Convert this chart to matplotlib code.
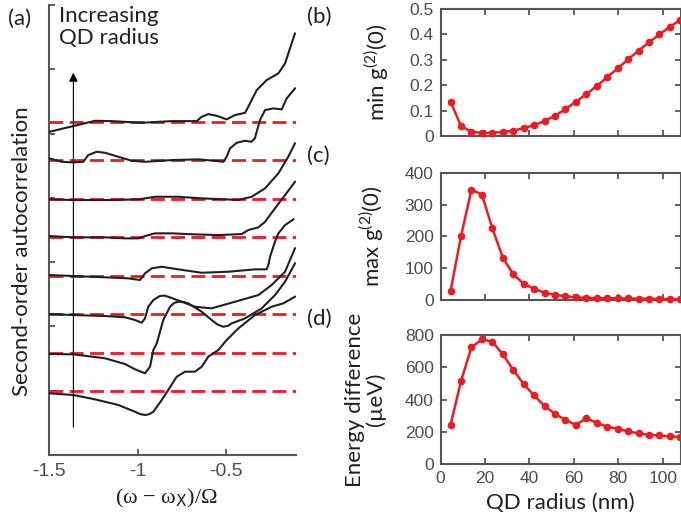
import matplotlib
matplotlib.use('Agg')
import matplotlib.pyplot as plt

plt.rcParams['font.family'] = ['Lato', 'DejaVu Sans']
plt.rcParams['axes.unicode_minus'] = False
plt.rcParams['mathtext.fontset'] = 'custom'
plt.rcParams['mathtext.rm'] = 'Lato'

# ---- panel (a): g2 spectra, bottom curve = smallest QD ----
baselines = [1.0, 1.59, 2.19, 2.79, 3.39, 3.98, 4.59, 5.18]

c0_x = [-1.5, -1.364, -1.242, -1.11, -1.016, -0.985, -0.959, -0.935, -0.912, -0.865, -0.828,
        -0.78, -0.733, -0.677, -0.639, -0.602, -0.545, -0.498, -0.432, -0.338, -0.244,
        -0.178, -0.112]
c0_y = [0.96, 0.933, 0.866, 0.778, 0.673, 0.635, 0.622, 0.635, 0.673, 0.855, 1.011,
        1.218, 1.296, 1.296, 1.373, 1.529, 1.633, 1.788, 1.97, 2.177, 2.306,
        2.359, 2.462]

c1_x = [-1.5, -1.364, -1.185, -1.072, -1.016, -0.959, -0.931, -0.912, -0.893, -0.856, -0.818,
        -0.795, -0.771, -0.74, -0.715, -0.639, -0.583, -0.55, -0.517, -0.49, -0.469,
        -0.394, -0.3, -0.225, -0.168, -0.112]
c1_y = [1.571, 1.566, 1.504, 1.415, 1.333, 1.271, 1.373, 1.633, 1.737, 2.1, 2.306,
        2.365, 2.384, 2.38, 2.359, 2.229, 2.1, 2.03, 1.995, 2.01, 2.048,
        2.126, 2.281, 2.488, 2.695, 2.981]

c2_x = [-1.5, -1.364, -1.185, -1.072, -1.016, -0.978, -0.959, -0.941, -0.912, -0.875,
        -0.85, -0.828, -0.752, -0.677, -0.583, -0.451, -0.319, -0.244, -0.168, -0.112]
c2_y = [2.193, 2.177, 2.162, 2.142, 2.1, 2.058, 2.126, 2.306, 2.411, 2.473,
        2.48, 2.462, 2.384, 2.306, 2.281, 2.384, 2.488, 2.644, 2.851, 3.215]

c3_x = [-1.5, -1.364, -1.185, -1.054, -0.988, -0.959, -0.921, -0.865, -0.771,
        -0.639, -0.489, -0.338, -0.272, -0.262, -0.253, -0.225, -0.206, -0.168, -0.121]
c3_y = [2.799, 2.784, 2.764, 2.748, 2.722, 2.826, 2.904, 2.928, 2.888,
        2.835, 2.851, 2.888, 2.888, 2.96, 3.084, 3.317, 3.448, 3.577, 3.666]

c4_x = [-1.5, -1.364, -1.185, -1.072, -0.997, -0.959, -0.903, -0.808, -0.677,
        -0.545, -0.413, -0.376, -0.319, -0.281, -0.225, -0.168, -0.112]
c4_y = [3.406, 3.386, 3.386, 3.37, 3.37, 3.406, 3.448, 3.448, 3.432,
        3.421, 3.437, 3.499, 3.541, 3.628, 3.837, 4.044, 4.25]

c5_x = [-1.5, -1.364, -1.147, -0.997, -0.959, -0.903, -0.771, -0.639, -0.507,
        -0.432, -0.357, -0.281, -0.206, -0.15, -0.112]
c5_y = [3.977, 3.966, 3.966, 3.977, 3.992, 4.017, 4.017, 3.992, 3.977,
        3.966, 4.017, 4.148, 4.381, 4.639, 4.848]

c6_x = [-1.5, -1.43, -1.364, -1.308, -1.28, -1.232, -1.185, -1.11, -1.034, -0.959,
        -0.808, -0.658, -0.564, -0.517, -0.498, -0.479, -0.441, -0.394, -0.357,
        -0.338, -0.31, -0.281, -0.234, -0.187, -0.159, -0.112]
c6_y = [4.614, 4.561, 4.552, 4.561, 4.666, 4.717, 4.701, 4.639, 4.577, 4.561,
        4.588, 4.599, 4.577, 4.561, 4.639, 4.77, 4.857, 4.888, 4.872,
        4.93, 5.21, 5.365, 5.392, 5.376, 5.547, 5.703]

c7_x = [-1.5, -1.364, -1.242, -1.147, -0.978, -0.808, -0.667, -0.639, -0.602, -0.554,
        -0.498, -0.451, -0.394, -0.366, -0.328, -0.272, -0.206, -0.168, -0.112]
c7_y = [5.028, 5.117, 5.199, 5.194, 5.168, 5.194, 5.194, 5.261, 5.303, 5.277,
        5.221, 5.288, 5.323, 5.47, 5.677, 5.832, 5.936, 6.092, 6.558]

curves = [(c0_x, c0_y), (c1_x, c1_y), (c2_x, c2_y), (c3_x, c3_y),
          (c4_x, c4_y), (c5_x, c5_y), (c6_x, c6_y), (c7_x, c7_y)]

# ---- panels (b)-(d): vs QD radius ----
radius = [4.5, 9.2, 13.9, 18.6, 23.3, 28.0, 32.7, 37.4, 42.1, 46.8, 51.5, 56.2,
          60.9, 65.6, 70.3, 75.0, 79.7, 84.4, 89.1, 93.8, 98.5, 103.2, 107.9]
min_g2 = [0.135, 0.039, 0.017, 0.012, 0.013, 0.016, 0.021, 0.031, 0.043, 0.059, 0.080, 0.106,
          0.135, 0.165, 0.197, 0.232, 0.266, 0.302, 0.336, 0.369, 0.400, 0.430, 0.457]
max_g2 = [29, 201, 347, 331, 225, 133, 81, 51, 35, 23, 16, 12,
          8, 7, 6, 6, 5, 5, 4, 4, 3, 3, 2]
energy_diff = [243, 515, 724, 773, 759, 680, 584, 495, 425, 359, 311, 274,
               241, 285, 254, 231, 219, 202, 190, 181, 177, 171, 167]

red = '#ec1c24'
black = '#231f20'
spine_c = '#555555'
tick_c = '#4d4d4d'

fig = plt.figure(figsize=(6.81, 5.29), dpi=100)

# panel a
ax = fig.add_axes([0.0724, 0.1399, 0.3623, 0.8506])
for b in baselines:
    ax.axhline(b, color=red, lw=2, ls=(0, (5, 2.3)), zorder=2)
for cx, cy in curves:
    ax.plot(cx, cy, color=black, lw=1.5, zorder=3, solid_joinstyle='round')
ax.annotate('', xy=(-1.364, 5.99), xytext=(-1.364, 0.39),
            arrowprops=dict(arrowstyle='-|>', lw=0.8, color='k', mutation_scale=13))
ax.text(-1.445, 6.98, 'Increasing\nQD radius', fontsize=16, va='top', ha='left',
        linespacing=1.1, color=black)
ax.set_xlim(-1.5, -0.106)
ax.set_ylim(0, 7)
ax.set_xticks([-1.5, -1, -0.5])
ax.set_xticklabels(['-1.5', '-1', '-0.5'], family='Liberation Sans')
ax.set_yticks(range(8))
ax.set_yticklabels([])
for s in ['top', 'right']:
    ax.spines[s].set_visible(False)
for s in ['left', 'bottom']:
    ax.spines[s].set_color(spine_c)
    ax.spines[s].set_linewidth(1.5)
ax.tick_params(direction='in', length=4, width=1.3, color=spine_c,
               labelsize=14, labelcolor=tick_c, pad=6)
ax.set_ylabel('Second-order autocorrelation', fontsize=16, color=black)
ax.yaxis.set_label_coords(-0.07, 0.453)
ax.set_xlabel(r'(ω − ω$_{\mathrm{X}}$)/Ω', fontsize=16, color=black,
              family=['Liberation Serif', 'DejaVu Serif'], math_fontfamily='dejavusans')
ax.xaxis.set_label_coords(0.474, -0.072)

# right panels
right_axes = []
specs = [
    ([0.647, 0.7429, 0.353, 0.2401], min_g2, (0, 0.5), [0, 0.1, 0.2, 0.3, 0.4, 0.5],
     ['0', '0.1', '0.2', '0.3', '0.4', '0.5'], r'min g$^{\mathrm{(2)}}$(0)'),
    ([0.647, 0.4329, 0.353, 0.2406], max_g2, (0, 400), [0, 100, 200, 300, 400],
     ['0', '100', '200', '300', '400'], r'max g$^{\mathrm{(2)}}$(0)'),
    ([0.647, 0.1229, 0.353, 0.2438], energy_diff, (0, 800), [0, 200, 400, 600, 800],
     ['0', '200', '400', '600', '800'], 'Energy difference\n(\u00b5eV)'),
]
for pos, vals, ylim, yt, ytl, lab in specs:
    a = fig.add_axes(pos)
    a.plot(radius, vals, color=red, lw=1.8, marker='o', ms=4.5, clip_on=False, zorder=3)
    a.set_xlim(0, 108.2)
    a.set_ylim(*ylim)
    a.set_xticks([0, 20, 40, 60, 80, 100])
    a.set_yticks(yt)
    a.set_yticklabels(ytl, family='Liberation Sans')
    for s in a.spines.values():
        s.set_color(spine_c)
        s.set_linewidth(1.5)
    a.tick_params(direction='in', length=4, width=1.3, color=spine_c, top=True, right=True,
                  labelsize=12.5, labelcolor=tick_c, pad=5)
    a.set_ylabel(lab, fontsize=16, color=black, labelpad=13.5, linespacing=1.05)
    right_axes.append(a)

right_axes[0].set_xticklabels([])
right_axes[1].set_xticklabels([])
right_axes[2].set_xticklabels(['0', '20', '40', '60', '80', '100'], family='Liberation Sans')
right_axes[2].set_xlabel('QD radius (nm)', fontsize=16, color=black, labelpad=5)

fig.text(0.012, 0.965, '(a)', fontsize=16, color=black, va='center')
fig.text(0.451, 0.968, '(b)', fontsize=16, color=black, va='center')
fig.text(0.451, 0.705, '(c)', fontsize=16, color=black, va='center')
fig.text(0.451, 0.398, '(d)', fontsize=16, color=black, va='center')

fig.savefig('out.png', dpi=100)
